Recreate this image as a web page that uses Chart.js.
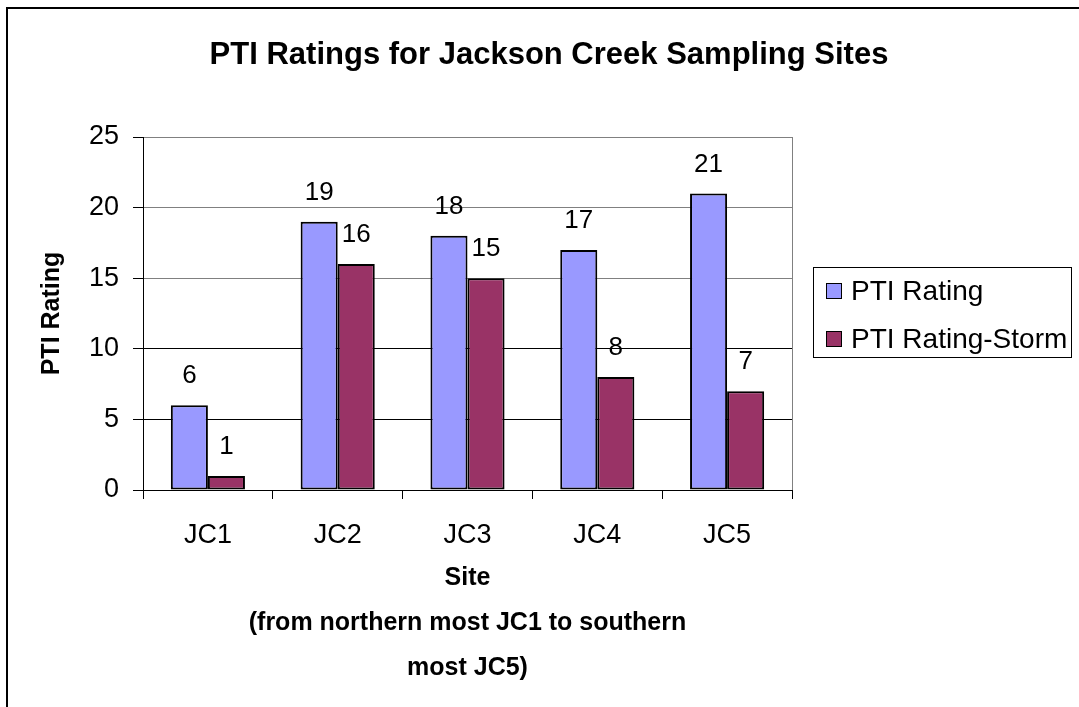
<!DOCTYPE html>
<html>
<head>
<meta charset="utf-8">
<script src="https://cdn.jsdelivr.net/npm/chart.js@4/dist/chart.umd.min.js"></script>
<style>
  body { margin: 0; background: #fff; }
  #grafico { display: block; }
</style>
</head>
<body>
<canvas id="grafico" width="1079" height="707"></canvas>
<script>
// dados
const sites = ['JC1', 'JC2', 'JC3', 'JC4', 'JC5'];
const ptiRating = [6, 19, 18, 17, 21];
const ptiRatingStorm = [1, 16, 15, 8, 7];
const seriesNames = ['PTI Rating', 'PTI Rating-Storm'];
const yTicks = [0, 5, 10, 15, 20, 25];

const chartTitle = 'PTI Ratings for Jackson Creek Sampling Sites';
const xTitle = ['Site', '(from northern most JC1 to southern', 'most JC5)'];
const yTitle = 'PTI Rating';

const cores = ['#9999FF', '#993366'];
const fonte = '"Liberation Sans", Arial, sans-serif';

// moldura, titulo, legenda e rotulos dos valores
const extras = {
  id: 'extras',
  beforeDatasetsDraw(chart) {
    const { ctx, chartArea } = chart;
    ctx.save();
    ctx.strokeStyle = '#808080';
    ctx.lineWidth = 1;
    ctx.beginPath();
    ctx.moveTo(chartArea.right + 0.5, chartArea.top);
    ctx.lineTo(chartArea.right + 0.5, chartArea.bottom);
    ctx.stroke();
    ctx.restore();
  },
  afterDatasetsDraw(chart) {
    const ctx = chart.ctx;
    ctx.save();
    ctx.font = '26px ' + fonte;
    ctx.fillStyle = '#000';
    ctx.textAlign = 'center';
    ctx.textBaseline = 'middle';
    chart.data.datasets.forEach((ds, i) => {
      chart.getDatasetMeta(i).data.forEach((bar, j) => {
        ctx.fillText(ds.data[j], bar.x, bar.y - 29);
      });
    });
    ctx.restore();
  },
  afterDraw(chart) {
    const ctx = chart.ctx;
    ctx.save();
    // moldura exterior
    ctx.strokeStyle = '#000';
    ctx.lineWidth = 2;
    ctx.beginPath();
    ctx.moveTo(7, 720);
    ctx.lineTo(7, 8);
    ctx.lineTo(1090, 8);
    ctx.stroke();

    // titulo
    ctx.fillStyle = '#000';
    ctx.font = 'bold 31px ' + fonte;
    ctx.textAlign = 'center';
    ctx.textBaseline = 'middle';
    ctx.fillText(chartTitle, 549, 55);

    // legenda
    ctx.lineWidth = 1;
    ctx.strokeRect(813.5, 267.5, 258, 90);
    ctx.font = '28px ' + fonte;
    ctx.textAlign = 'left';
    chart.data.datasets.forEach((ds, i) => {
      const y = 291 + i * 48;
      ctx.fillStyle = ds.backgroundColor;
      ctx.fillRect(826, y - 8, 16, 16);
      ctx.strokeRect(826.5, y - 7.5, 15, 15);
      ctx.fillStyle = '#000';
      ctx.fillText(ds.label, 851, y + 1);
    });
    ctx.restore();
  }
};

new Chart(document.getElementById('grafico'), {
  type: 'bar',
  data: {
    labels: sites,
    datasets: [
      { label: seriesNames[0], data: ptiRating, backgroundColor: cores[0] },
      { label: seriesNames[1], data: ptiRatingStorm, backgroundColor: cores[1] }
    ]
  },
  options: {
    responsive: false,
    animation: false,
    layout: { padding: { left: 10, top: 137, right: 287, bottom: 0 } },
    datasets: {
      bar: {
        categoryPercentage: 0.571,
        barPercentage: 1,
        borderColor: '#000',
        borderWidth: 2,
        borderSkipped: false
      }
    },
    plugins: {
      legend: { display: false },
      title: { display: false },
      tooltip: { enabled: false }
    },
    scales: {
      x: {
        afterFit(scale) { scale.height = 217; },
        grid: { drawOnChartArea: false, drawTicks: true, tickLength: 9, color: '#000' },
        border: { display: true, color: '#000', width: 1 },
        ticks: { color: '#000', padding: 20, font: { family: fonte, size: 27 } },
        title: {
          display: true,
          text: xTitle,
          color: '#000',
          font: { family: fonte, size: 25, weight: 'bold', lineHeight: 1.8 },
          padding: { top: 0, bottom: 16.5 }
        }
      },
      y: {
        min: 0,
        max: 25,
        afterFit(scale) { scale.width = 133; },
        afterBuildTicks(scale) { scale.ticks = yTicks.map(v => ({ value: v })); },
        grid: {
          color: ctx => (ctx.tick && ctx.tick.value <= 10 ? '#000' : '#808080'),
          tickColor: '#000',
          tickLength: 10
        },
        border: { display: true, color: '#000', width: 1 },
        ticks: { color: '#000', padding: 14, font: { family: fonte, size: 27 } },
        title: {
          display: true,
          text: yTitle,
          color: '#000',
          font: { family: fonte, size: 25, weight: 'bold' },
          padding: { top: 27, bottom: 0 }
        }
      }
    }
  },
  plugins: [extras]
});
</script>
</body>
</html>
